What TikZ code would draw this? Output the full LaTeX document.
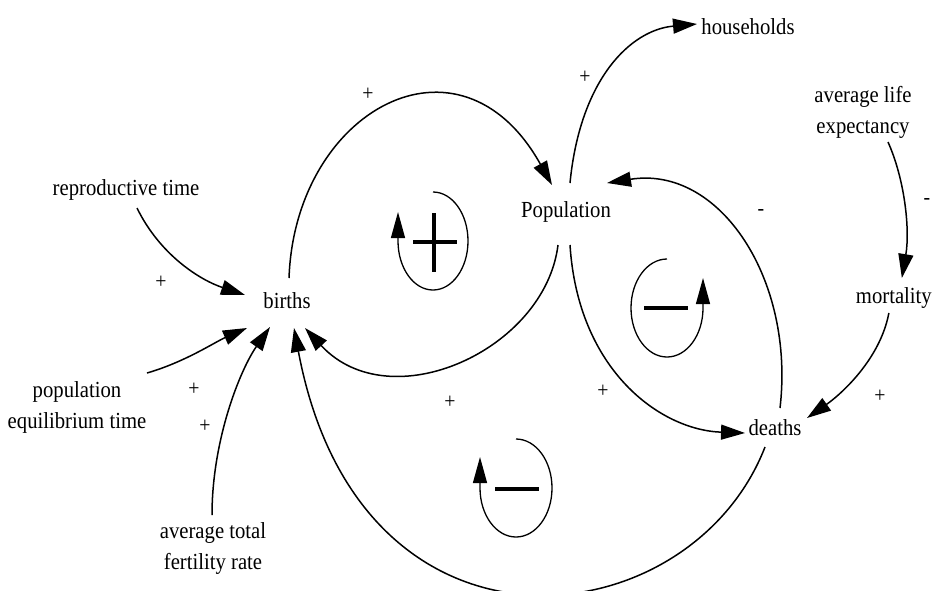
\documentclass[tikz,border=0pt]{standalone}
\usepackage{fontspec}
\setmainfont{Liberation Serif}[FakeStretch=0.9]
\usetikzlibrary{arrows.meta}
\begin{document}
\begin{tikzpicture}[x=1pt,y=-1pt,
  lbl/.style={inner sep=0pt,font=\fontsize{23}{31}\selectfont,align=center},
  sgn/.style={inner sep=0pt,font=\fontsize{22}{22}\selectfont},
  conn/.style={line width=1.5pt,-{Triangle[length=24pt,width=15pt]}},
  loopline/.style={line width=1.3pt,-{Triangle[length=26pt,width=14pt]}},
  bar/.style={line width=4pt}]
\useasboundingbox (0,0) rectangle (933,590);
% nodes
\node[lbl] (hh) at (748,27) {households};
\node[lbl] (ale) at (863,112) {average life\\expectancy};
\node[lbl] (rt) at (126,190) {reproductive time};
\node[lbl] (pop) at (566,212) {Population};
\node[lbl] (births) at (287,301) {births};
\node[lbl,anchor=east] (mort) at (932,298) {mortality};
\node[lbl] (pet) at (77,407) {population\\equilibrium time};
\node[lbl] (deaths) at (775,428) {deaths};
\node[lbl] (atfr) at (213,548) {average total\\fertility rate};
% signs
\node[sgn] (s1) at (368,94) {+};
\node[sgn] (s2) at (585,77) {+};
\node[sgn] (s3) at (161,282) {+};
\node[sgn] (s4) at (194,389) {+};
\node[sgn] (s5) at (205,426) {+};
\node[sgn] (s6) at (450,402) {+};
\node[sgn] (s7) at (603,391) {+};
\node[sgn] (s8) at (880,396) {+};
\node[sgn] (s9) at (761,212) {-};
\node[sgn] (s10) at (927,201) {-};
% connectors
\draw[conn] ([shift={(2,-23)}]births.center) .. controls (295,110) and (460,20) .. ([shift={(-14,-27)}]pop.center);
\draw[conn] ([shift={(-8,33)}]pop.center) .. controls (545,350) and (390,420) .. ([shift={(18,27)}]births.center);
\draw[conn] ([shift={(4,-29)}]pop.center) .. controls (580,80) and (630,30) .. ([shift={(-51,-3)}]hh.center);
\draw[conn] ([shift={(5,-20)}]deaths.center) .. controls (795,280) and (720,165) .. ([shift={(41,-29)}]pop.center);
\draw[conn] ([shift={(4,33)}]pop.center) .. controls (578,370) and (660,430) .. ([shift={(-30,5)}]deaths.center);
\draw[conn] ([shift={(-10,19)}]deaths.center) .. controls (690,640) and (360,680) .. ([shift={(7,27)}]births.center);
\draw[conn] ([shift={(25,30)}]ale.center) .. controls (905,180) and (910,230) .. ([shift={(8,-20)}]mort.center);
\draw[conn] ([shift={(-5,15)}]mort.center) .. controls (880,360) and (840,395) .. ([shift={(32,-10)}]deaths.center);
\draw[conn] ([shift={(11,18)}]rt.center) .. controls (160,255) and (200,280) .. ([shift={(-42,-6)}]births.center);
\draw[conn] ([shift={(70,-34)}]pet.center) .. controls (185,362) and (215,342) .. ([shift={(-40,27)}]births.center);
\draw[conn] ([shift={(-1,-33)}]atfr.center) .. controls (212,440) and (240,370) .. ([shift={(-17,26)}]births.center);
% loop symbols
\draw[loopline] (433,192) arc[start angle=90,end angle=-180,x radius=35pt,y radius=49pt] -- ++(0,-29);
\draw[bar] (413,242) -- (457,242) (434,213) -- (434,272);
\draw[loopline] (667,259) arc[start angle=90,end angle=360,x radius=36pt,y radius=49pt] -- ++(0,-30);
\draw[bar] (644,308) -- (688,308);
\draw[loopline] (516,439) arc[start angle=90,end angle=-180,x radius=36pt,y radius=49pt] -- ++(0,-31);
\draw[bar] (495,489) -- (539,489);
\end{tikzpicture}
\end{document}
